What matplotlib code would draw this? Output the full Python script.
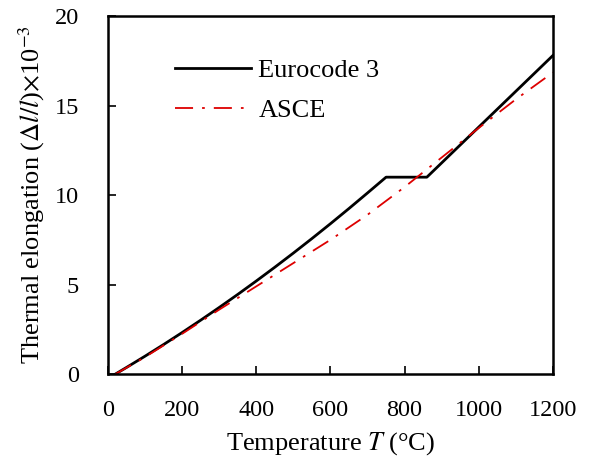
import matplotlib
matplotlib.use('Agg')
import matplotlib.pyplot as plt

# Eurocode 3 thermal elongation (x10^-3)
ec_temp = [20, 50, 100, 150, 200, 250, 300, 350, 400, 450, 500,
           550, 600, 650, 700, 750, 860, 1200]
ec_elong = [0.0, 0.37, 1.0, 1.65, 2.32, 3.01, 3.72, 4.45, 5.2, 5.97, 6.76,
            7.57, 8.4, 9.25, 10.12, 11.0, 11.0, 17.8]

# ASCE curve
asce_temp = [20, 100, 200, 300, 400, 500, 600, 700, 800, 900, 1000, 1100, 1200]
asce_elong = [0.0, 0.95, 2.25, 3.6, 4.9, 6.2, 7.5, 8.9, 10.45, 12.1, 13.75, 15.35, 16.85]

plt.rcParams['font.family'] = ['Liberation Serif', 'DejaVu Serif']
plt.rcParams['mathtext.fontset'] = 'stix'

fig = plt.figure(figsize=(6.03, 4.59), dpi=100)
ax = fig.add_axes([0.179, 0.185, 0.738, 0.78])

ax.plot(ec_temp, ec_elong, color='black', linewidth=2.0, label='Eurocode 3')
ax.plot(asce_temp, asce_elong, color='#dd0000', linewidth=1.3,
        dashes=(10, 5, 1.5, 5), label='ASCE')

ax.set_xlim(0, 1200)
ax.set_ylim(0, 20)
ax.set_xticks(range(0, 1201, 200))
ax.set_yticks(range(0, 21, 5))
ax.tick_params(direction='in', length=6, width=1.2, labelsize=17.5)
ax.tick_params(axis='x', pad=19)
ax.tick_params(axis='y', pad=21)
for sp in ax.spines.values():
    sp.set_linewidth(1.8)

ax.set_xlabel(r'Temperature $T$ (°C)', fontsize=19, labelpad=6)
ax.set_ylabel(r'Thermal elongation ($\Delta l/l$)$\times$10$^{-3}$', fontsize=19, labelpad=5)

ax.legend(loc='upper left', bbox_to_anchor=(0.15, 0.88), frameon=False,
          fontsize=19, handlelength=2.9, handletextpad=0.27, labelspacing=0.6,
          borderpad=0, borderaxespad=0)

fig.savefig('out.png', dpi=100)
